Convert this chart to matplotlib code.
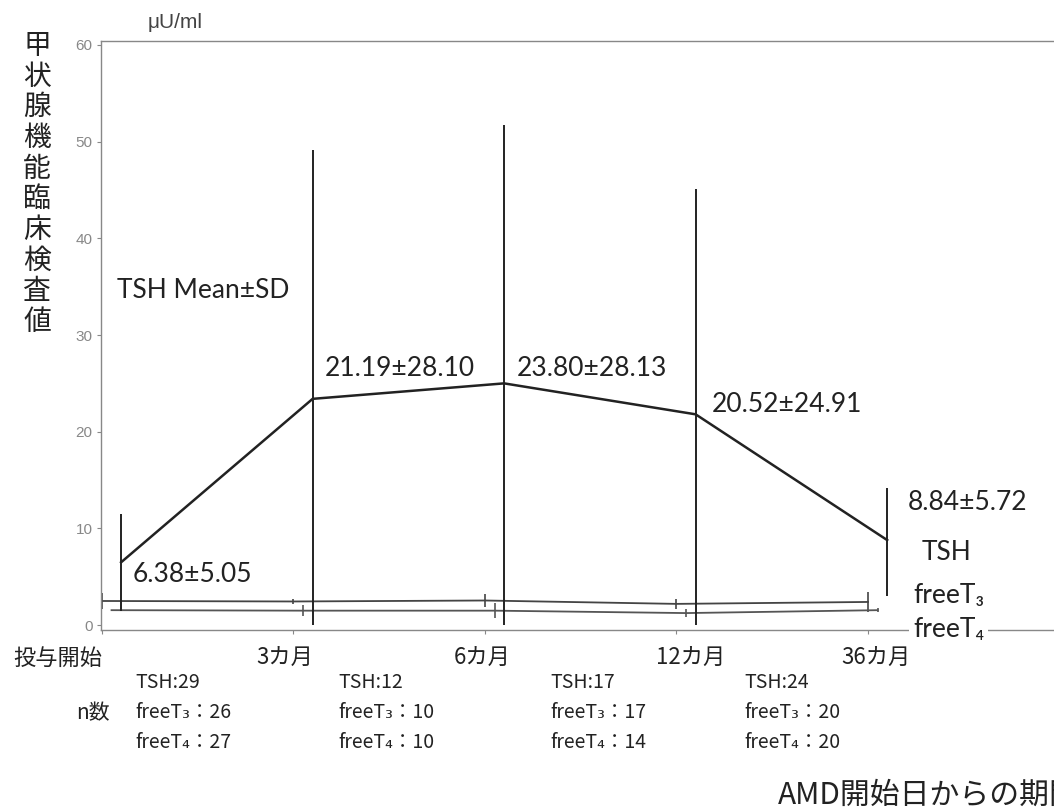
import numpy as np
import matplotlib.pyplot as plt

plt.rcParams['font.family'] = ['Noto Sans CJK JP', 'DejaVu Sans']
LAT = ['Lato', 'Noto Sans CJK JP', 'DejaVu Sans']

# time points (evenly spaced on the axis)
periods = ['投与開始', '3カ月', '6カ月', '12カ月', '36カ月']
xpos = np.arange(len(periods))

# TSH, values (uU/ml)
tsh_mean = [6.5, 23.4, 25.0, 21.8, 8.8]
tsh_hi = [11.5, 49.1, 51.7, 45.1, 14.2]
tsh_lo = [1.5, 0.0, 0.0, 0.0, 3.0]
tsh_text = ['6.38±5.05', '21.19±28.10', '23.80±28.13', '20.52±24.91', '8.84±5.72']

# freeT3 / freeT4 (drawn near the bottom)
ft3_mean = [2.5, 2.45, 2.55, 2.2, 2.4]
ft3_sd = [0.85, 0.3, 0.7, 0.5, 1.0]
ft4_mean = [1.55, 1.5, 1.5, 1.25, 1.55]
ft4_sd = [0.05, 0.55, 0.8, 0.4, 0.2]

# n per time point
n_tsh = [29, 12, 17, 24]
n_ft3 = [26, 10, 17, 20]
n_ft4 = [27, 10, 14, 20]

W, H = 1054, 807
fig = plt.figure(figsize=(W / 100, H / 100), dpi=100)


def px(x, y):
    # pixel position -> figure fraction
    return x / W, 1 - y / H


ax = fig.add_axes([101 / W, 1 - 630 / H, 1 - 101 / W, (630 - 41) / H])
ax.set_xlim(-0.005, (W - 102) / 191.5)
ax.set_ylim(-0.5, 60.4)

for s in ['left', 'top', 'bottom']:
    ax.spines[s].set_color('#888888')
    ax.spines[s].set_linewidth(1.0)
ax.spines['right'].set_visible(False)

ax.set_yticks(range(0, 61, 10))
ax.tick_params(axis='y', length=3, color='#888888', labelsize=11, labelcolor='#888888', pad=3)
for lbl in ax.get_yticklabels():
    lbl.set_family(['Liberation Sans', 'DejaVu Sans'])
ax.set_xticks(xpos)
ax.set_xticklabels([])
ax.tick_params(axis='x', length=3, color='#888888')

# TSH mean line + SD bars
xt = xpos + 0.1
ax.plot(xt, tsh_mean, color='#222222', lw=1.8, zorder=3)
ax.vlines(xt, tsh_lo, tsh_hi, color='#222222', lw=1.4, zorder=3)

# freeT3 / freeT4
ax.errorbar(xpos, ft3_mean, yerr=ft3_sd, color='#444444', lw=1.3, elinewidth=1.2,
            capsize=0, zorder=2)
x4 = xpos + 0.05
ax.errorbar(x4, ft4_mean, yerr=ft4_sd, color='#555555', lw=1.3, elinewidth=1.2,
            capsize=0, zorder=2)

# annotations
fs_big = 19
fig.text(*px(148, 23), 'μU/ml', family=['Liberation Sans', 'DejaVu Sans'], fontsize=15,
         color='#444444', va='center')
fig.text(*px(117, 290), 'TSH Mean±SD', family=LAT, fontsize=fs_big, color='#222222', va='center')
lab_px = [(133, 575), (325, 368), (517, 368), (712, 405), (908, 502)]
for t, (lx, ly) in zip(tsh_text, lab_px):
    fig.text(*px(lx, ly), t, family=LAT, fontsize=fs_big, color='#222222', va='center')

fig.text(*px(922, 553), 'TSH', family=LAT, fontsize=fs_big, color='#222222', va='center')
fig.text(*px(913, 595), 'freeT₃', family=LAT, fontsize=fs_big, color='#222222', va='center')
fig.text(*px(913, 630), 'freeT₄', family=LAT, fontsize=fs_big, color='#222222', va='center',
         bbox=dict(facecolor='white', edgecolor='none', pad=3), zorder=5)

# y label, written vertically
ylab = '甲状腺機能臨床検査値'
fig.text(*px(37, 184), '\n'.join(ylab), fontsize=20, color='#222222',
         ha='center', va='center', linespacing=1.03)

# x tick labels
tick_lab_px = [58, 285, 482, 691, 876]
for t, lx in zip(periods, tick_lab_px):
    fig.text(*px(lx, 658), t, fontsize=16, color='#222222', ha='center', va='center')

# n numbers
fig.text(*px(110, 713), 'n数', fontsize=15, color='#222222', ha='right', va='center')
n_px = [135, 338, 550, 744]
for i, nx in enumerate(n_px):
    fig.text(*px(nx, 683), f'TSH:{n_tsh[i]}', fontsize=14, color='#222222', va='center')
    fig.text(*px(nx, 713), f'freeT₃：{n_ft3[i]}', fontsize=14, color='#222222', va='center')
    fig.text(*px(nx, 743), f'freeT₄：{n_ft4[i]}', fontsize=14, color='#222222', va='center')

# axis title, runs off the right edge as in the source image
fig.text(*px(778, 795), 'AMD開始日からの期間', fontsize=21.5, color='#222222', va='center')

fig.savefig('out.png', dpi=100)
